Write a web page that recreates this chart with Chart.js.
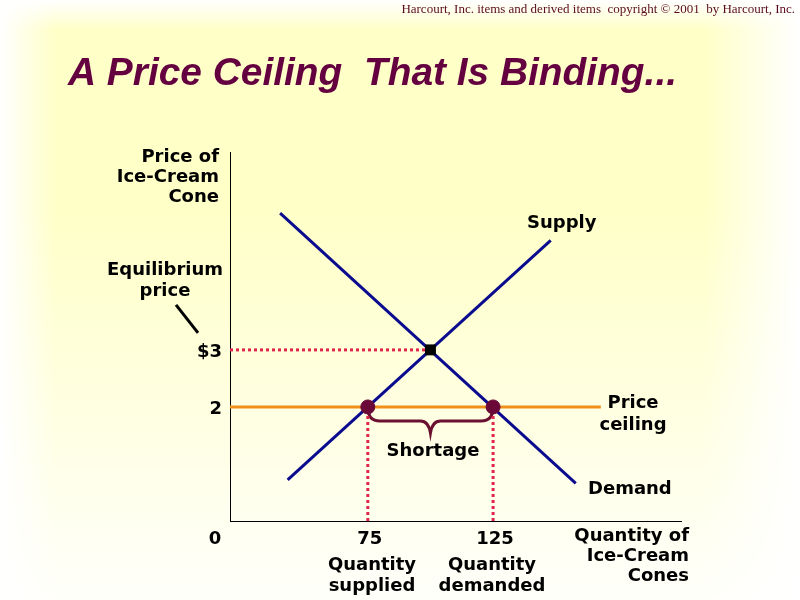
<!DOCTYPE html>
<html>
<head>
<meta charset="utf-8">
<script src="https://cdn.jsdelivr.net/npm/chart.js@4/dist/chart.umd.min.js"></script>
<style>
  html, body { margin: 0; padding: 0; }
  body {
    width: 800px; height: 600px; overflow: hidden;
    background:
      linear-gradient(to bottom, #fff 0, rgba(255,255,255,0) 5%, rgba(255,255,255,0) 35%, rgba(255,255,255,0.92) 100%),
      linear-gradient(to right, #fff 0, rgba(255,255,255,0) 7%, rgba(255,255,255,0) 88%, #fff 100%),
      #ffffc8;
  }
  #wrap { position: relative; width: 800px; height: 600px; }
</style>
</head>
<body>
<div id="wrap"><canvas id="c" width="800" height="600"></canvas></div>
<script>
// curve end points (quantity, price)
const supply = [{ x: 43, y: 0.72 }, { x: 148, y: 4.92 }];
const demand = [{ x: 40, y: 5.4 }, { x: 158, y: 0.66 }];
const ceiling = [{ x: 20, y: 2 }, { x: 168, y: 2 }];
const equilibrium = [{ x: 100, y: 3 }];
const atCeiling = [{ x: 75, y: 2 }, { x: 125, y: 2 }];
const eqGuide = [{ x: 20, y: 3 }, { x: 100, y: 3 }];
const suppliedGuide = [{ x: 75, y: 0 }, { x: 75, y: 2 }];
const demandedGuide = [{ x: 125, y: 0 }, { x: 125, y: 2 }];

const priceTicks = [{ v: 3, t: "$3" }, { v: 2, t: "2" }];
const qtyTicks = [{ v: 75, t: "75" }, { v: 125, t: "125" }];

const NAVY = "#0b0b8f";
const DOT = "#6a0838";
const RED = "#e0244c";
const LABEL = "bold 18px 'DejaVu Sans', Verdana, sans-serif";

function line(data, color, width, dash, order) {
  return {
    data, showLine: true, borderColor: color, borderWidth: width,
    borderDash: dash || [], pointRadius: 0, fill: false, order,
  };
}

const texts = {
  id: "texts",
  beforeDatasetsDraw(chart) {
    const { ctx, scales: { x, y } } = chart;
    // shortage brace
    const x1 = x.getPixelForValue(75), x2 = x.getPixelForValue(125);
    const xm = (x1 + x2) / 2, y0 = y.getPixelForValue(2);
    ctx.save();
    ctx.strokeStyle = "#6b1030";
    ctx.lineWidth = 3;
    ctx.beginPath();
    ctx.moveTo(x1, y0);
    ctx.quadraticCurveTo(x1, y0 + 14, x1 + 12, y0 + 14);
    ctx.lineTo(xm - 10, y0 + 14);
    ctx.quadraticCurveTo(xm - 2, y0 + 14, xm, y0 + 26);
    ctx.quadraticCurveTo(xm + 2, y0 + 14, xm + 10, y0 + 14);
    ctx.lineTo(x2 - 12, y0 + 14);
    ctx.quadraticCurveTo(x2, y0 + 14, x2, y0);
    ctx.stroke();
    ctx.restore();
  },
  afterDraw(chart) {
    const { ctx, chartArea: a, scales: { x, y } } = chart;
    ctx.save();
    ctx.fillStyle = "#000";
    ctx.font = LABEL;
    const put = (s, px, py, align) => { ctx.textAlign = align || "left"; ctx.fillText(s, px, py); };

    priceTicks.forEach((p) => put(p.t, a.left - 8, y.getPixelForValue(p.v) + 7, "right"));
    qtyTicks.forEach((q) => put(q.t, x.getPixelForValue(q.v) + 2, a.bottom + 23, "center"));
    put("0", a.left - 15, a.bottom + 23, "center");

    put("Price of", 219, 162, "right");
    put("Ice-Cream", 219, 182, "right");
    put("Cone", 219, 202, "right");
    put("Equilibrium", 165, 275, "center");
    put("price", 165, 296, "center");
    put("Supply", 527, 228);
    put("Price", 633, 408, "center");
    put("ceiling", 633, 430, "center");
    put("Demand", 588, 494);
    put("Shortage", 433, 456, "center");
    put("Quantity", 372, 570, "center");
    put("supplied", 372, 591, "center");
    put("Quantity", 492, 570, "center");
    put("demanded", 492, 591, "center");
    put("Quantity of", 689, 541, "right");
    put("Ice-Cream", 689, 561, "right");
    put("Cones", 689, 581, "right");

    // pointer from "Equilibrium price" to $3
    const py3 = y.getPixelForValue(3);
    ctx.strokeStyle = "#000";
    ctx.lineWidth = 3;
    ctx.beginPath();
    ctx.moveTo(a.left - 54, py3 - 45);
    ctx.lineTo(a.left - 32, py3 - 17);
    ctx.stroke();

    // title, stretched to the width it has in the picture
    const title = "A Price Ceiling  That Is Binding...";
    ctx.fillStyle = "#650040";
    ctx.font = "italic bold 38px 'Liberation Sans', Arial, sans-serif";
    ctx.textAlign = "left";
    const w = ctx.measureText(title).width;
    ctx.save();
    ctx.translate(68, 85);
    ctx.scale(609 / w, 1);
    ctx.fillText(title, 0, 0);
    ctx.restore();

    ctx.fillStyle = "#5a0a20";
    ctx.font = "13px 'Liberation Serif', 'Times New Roman', serif";
    put("Harcourt, Inc. items and derived items  copyright \u00a9 2001  by Harcourt, Inc.", 795, 13, "right");
    ctx.restore();
  },
};

new Chart(document.getElementById("c"), {
  type: "scatter",
  data: {
    datasets: [
      { data: atCeiling, pointRadius: 7, pointHoverRadius: 7, pointBackgroundColor: DOT, pointBorderColor: DOT, order: 0 },
      { data: equilibrium, pointStyle: "rect", pointRadius: 7, pointHoverRadius: 7, pointBackgroundColor: "#000", pointBorderColor: "#000", order: 0 },
      line(supply, NAVY, 3, null, 1),
      line(demand, NAVY, 3, null, 1),
      line(ceiling, "#f0901c", 3, null, 2),
      line(eqGuide, RED, 3, [3, 3], 3),
      line(suppliedGuide, RED, 3, [3, 3], 3),
      line(demandedGuide, RED, 3, [3, 3], 3),
    ],
  },
  options: {
    responsive: false,
    animation: false,
    events: [],
    layout: { padding: { left: 230, right: 119, top: 152, bottom: 79 } },
    plugins: { legend: { display: false }, tooltip: { enabled: false } },
    scales: {
      x: {
        type: "linear", min: 20, max: 200,
        grid: { display: false, drawTicks: false },
        ticks: { display: false },
        border: { display: true, color: "#000", width: 1 },
      },
      y: {
        type: "linear", min: 0, max: 6.47,
        grid: { display: false, drawTicks: false },
        ticks: { display: false },
        border: { display: true, color: "#000", width: 1 },
      },
    },
  },
  plugins: [texts],
});
</script>
</body>
</html>
